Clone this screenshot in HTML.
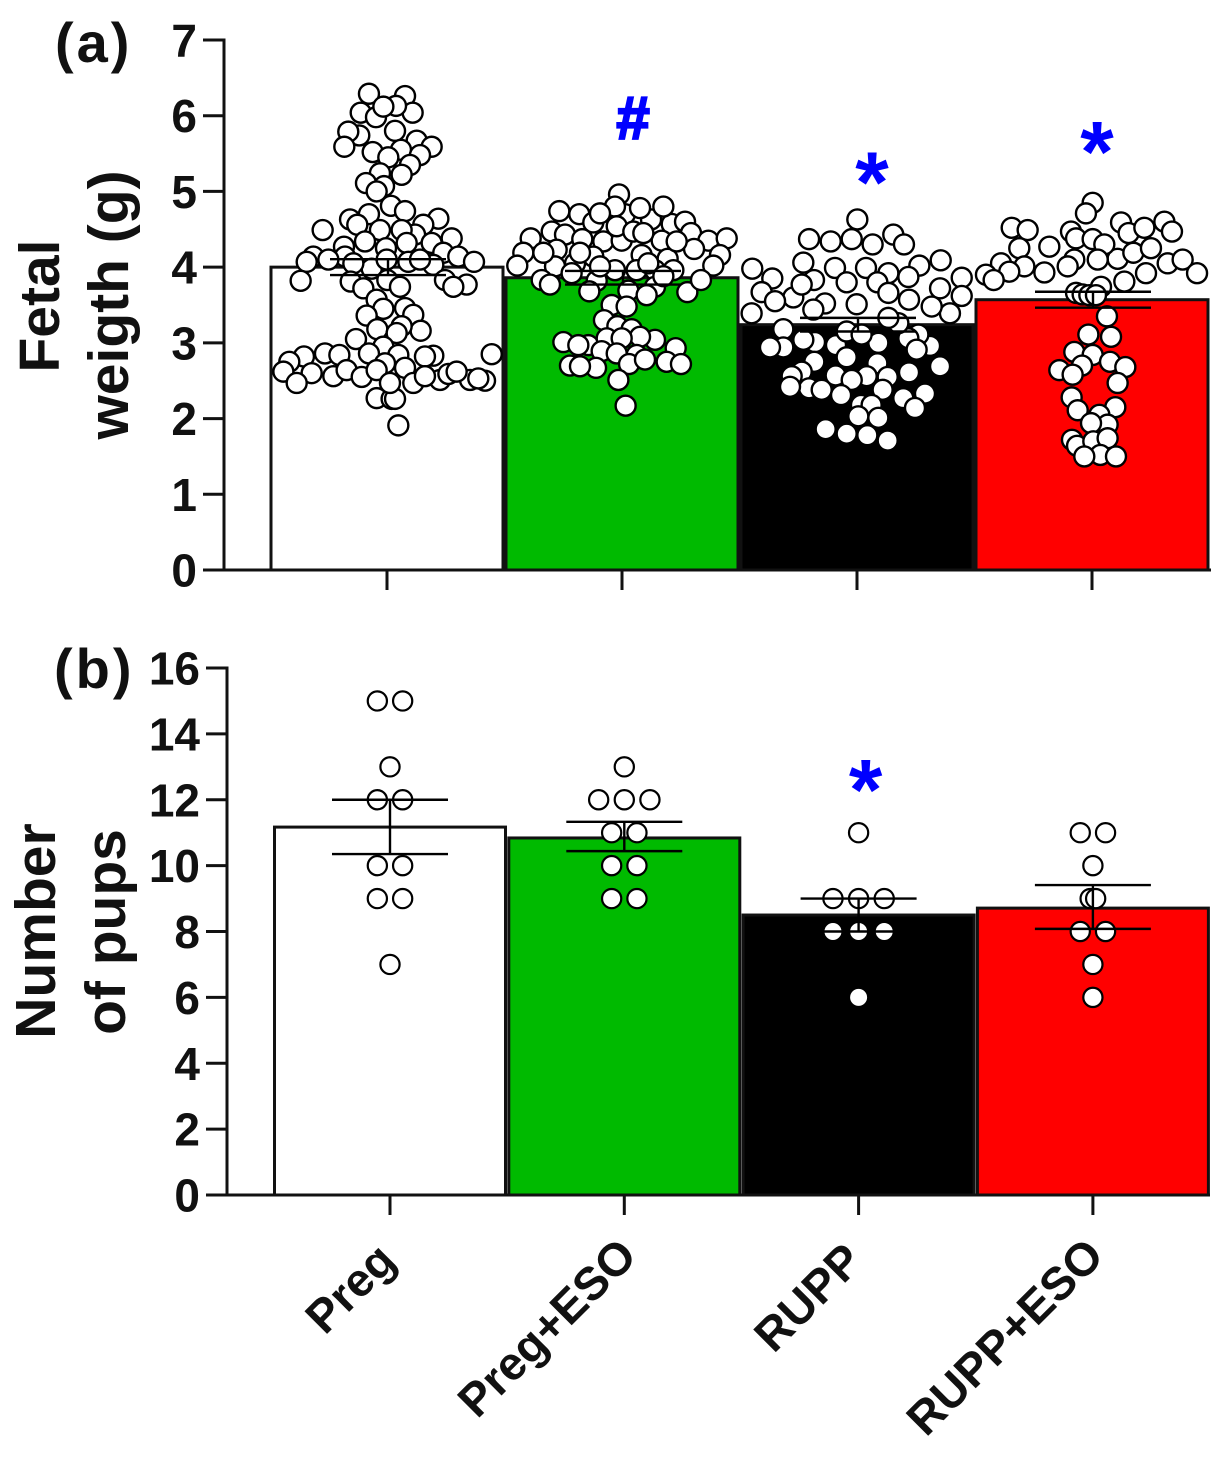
<!DOCTYPE html>
<html lang="en">
<head>
<meta charset="utf-8">
<title>Fetal weight and number of pups</title>
<style>
html,body{margin:0;padding:0;background:#fff;width:1230px;height:1457px;overflow:hidden}
svg{display:block}
text{font-family:"Liberation Sans",sans-serif;font-weight:bold;fill:#111}
</style>
</head>
<body>
<svg id="chart" xmlns="http://www.w3.org/2000/svg" width="1230" height="1457" viewBox="0 0 1230 1457"></svg>
<script>
const groupNames = ['Preg', 'Preg+ESO', 'RUPP', 'RUPP+ESO'];
const groupColors = ['#ffffff', '#00ba00', '#000000', '#ff0000'];

const weightTicks = [0, 1, 2, 3, 4, 5, 6, 7];
const weightMeans = [4.0, 3.86, 3.24, 3.57];
const weightErrors = [0.105, 0.09, 0.09, 0.105];
const weightMarks = ['', '#', '*', '*'];
const weightMarkValues = [0, 5.9, 5.25, 5.65];

const pupsTicks = [0, 2, 4, 6, 8, 10, 12, 14, 16];
const pupsMeans = [11.17, 10.84, 8.5, 8.71];
const pupsUpper = [12.0, 11.33, 9.0, 9.41];
const pupsLower = [10.35, 10.44, 8.0, 8.08];
const pupsMarks = ['', '', '*', ''];
const pupsMarkValues = [0, 0, 12.6, 0];

const pregWeights = [6.29,6.26,6.04,6.04,5.98,6.13,6.12,5.80,5.74,5.79,5.59,5.67,5.59,5.52,5.55,5.45,5.48,5.35,5.24,5.22,5.11,5.07,5.0,4.81,4.74,4.70,4.63,4.56,4.64,4.56,4.49,4.49,4.38,4.43,4.49,4.34,4.27,4.25,4.32,4.32,4.19,4.14,4.14,4.07,4.10,4.14,4.07,4.07,4.03,3.98,4.05,4.10,4.10,3.82,3.81,3.83,3.83,3.77,3.74,3.74,3.72,3.57,3.45,3.36,3.46,3.37,3.18,3.16,3.22,3.05,3.13,2.95,2.86,2.84,2.83,2.82,2.85,2.86,2.82,2.84,2.75,2.62,2.60,2.47,2.56,2.64,2.55,2.73,2.67,2.47,2.64,2.51,2.59,2.51,2.50,2.62,2.53,2.27,2.26,2.26,1.91,2.56,2.47];
const pregSwarm = [-1.64,1.64,-2.39,2.33,-1.0,.82,-.33,.73,-2.52,-3.52,-3.88,2.70,4.06,-1.30,1.27,.12,3.0,2.09,-.64,1.33,-1.91,-.27,-.94,.36,1.64,-1.64,-3.36,-2.70,4.67,3.30,-5.85,-.64,5.88,2.55,1.33,-2.0,-3.91,-.09,4.06,1.79,5.12,-3.82,-6.70,-7.30,-5.33,6.48,7.91,1.94,4.21,-1.39,-3.06,3.0,-.03,-7.85,-3.30,.03,5.27,7.24,6.03,1.18,-2.15,-.94,-.33,-1.85,1.64,2.39,-.88,3.06,1.33,-2.82,.88,-.33,-1.64,1.03,4.21,3.45,9.52,-5.64,-7.55,-4.33,-8.88,-9.42,-6.85,-8.21,-4.88,-3.67,-2.30,-.18,1.64,2.39,-.94,4.82,5.58,7.55,8.91,6.33,8.30,-.94,.42,.73,1.03,3.45,.27];

const pregEsoWeights = [4.96,4.74,4.70,4.59,4.70,4.63,4.57,4.80,4.80,4.78,4.71,4.60,4.38,4.47,4.43,4.37,4.34,4.35,4.35,4.45,4.35,4.38,4.23,4.16,4.11,4.24,4.16,4.19,4.02,4.02,4.01,4.19,4.05,4.14,4.54,4.47,4.45,4.34,3.82,3.92,3.96,3.96,3.96,3.96,3.83,3.77,3.69,3.74,3.67,3.83,3.68,3.50,3.48,3.63,3.30,3.22,3.18,3.01,2.97,3.04,3.06,3.08,3.06,2.97,2.93,2.89,2.86,2.84,2.70,2.67,2.72,2.69,2.75,2.72,2.51,2.17,2.78,4.05,4.01,4.19,3.88];
const pregEsoSwarm = [-.27,-5.70,-3.88,-2.61,.27,2.64,4.52,3.76,-.64,1.64,-2.0,5.73,-8.30,-6.39,-5.18,-3.61,-1.70,-.03,3.61,6.27,7.85,9.52,-5.94,1.79,4.15,6.55,8.91,-8.97,-9.52,8.30,-6.09,-7.15,-4.27,-2.61,-.48,1.03,1.94,4.97,-2.30,-4.58,-.64,1.33,3.0,4.67,-7.30,-6.55,.58,3.0,5.94,7.18,-2.97,-.94,.42,2.24,-1.64,-.42,.88,-5.33,-3.06,3.0,-1.39,1.64,-.03,-3.97,4.88,-1.85,-.48,1.33,-4.73,-2.36,.64,-3.82,4.06,5.36,-.33,.33,2.09,2.39,-2.0,-3.82,3.76];

const ruppWeights = [4.63,4.37,4.34,4.37,4.30,4.43,4.30,4.06,3.99,3.99,3.92,4.02,4.09,3.98,3.85,3.86,3.83,3.80,3.80,3.87,3.72,3.67,3.60,3.62,3.52,3.51,3.57,3.66,3.39,3.39,3.44,3.48,3.55,3.77,3.18,2.94,2.94,3.01,3.04,2.97,3.0,2.96,3.11,3.06,2.91,3.15,3.11,3.26,3.33,2.81,2.75,2.69,2.73,2.61,2.55,2.56,2.57,2.62,2.56,2.51,2.40,2.42,2.38,2.31,2.38,2.33,2.27,2.14,2.18,2.18,2.01,2.03,1.86,1.80,1.78,1.71];
const ruppSwarm = [.03,-4.36,-2.39,-.48,1.42,3.30,4.27,-4.88,-2.0,.82,2.85,5.67,7.61,-9.52,-7.70,9.52,-3.91,-.94,1.85,4.67,7.55,-8.67,-5.79,9.52,-2.91,-.03,4.73,2.85,-9.58,8.45,-3.97,6.79,-7.45,-5.03,-6.70,-6.70,-7.91,-3.82,-4.88,-1.91,1.94,6.64,5.58,4.67,5.42,-.94,.42,3.76,2.85,-.94,-3.88,7.55,1.85,4.73,2.79,.88,-1.94,-5.03,-5.94,-.48,-4.36,-6.09,-3.21,-1.45,2.33,6.18,4.21,5.27,.36,1.33,1.94,.12,-2.85,-.94,.94,2.79];

const ruppEsoWeights = [4.85,4.71,4.52,4.49,4.25,4.27,4.47,4.38,4.37,4.59,4.45,4.52,4.60,4.47,4.10,4.11,4.19,4.05,4.01,4.05,4.10,3.90,3.94,3.83,3.93,3.92,3.81,3.92,4.30,4.25,4.10,4.01,3.74,3.66,3.64,3.63,3.63,3.35,3.11,3.08,2.88,2.84,2.75,2.68,2.70,2.64,2.58,2.47,2.28,2.15,2.11,2.05,1.92,1.94,1.72,1.64,1.70,1.74,1.52,1.50,1.50];
const ruppEsoSwarm = [.06,-.55,-7.30,-5.85,-6.61,-3.88,-1.91,-1.45,.06,2.64,3.33,4.76,6.58,7.27,-1.61,2.33,3.76,-8.27,-6.15,6.88,8.24,-9.64,-7.52,-8.94,-4.33,4.91,2.94,9.55,1.12,5.36,.52,-2.21,.82,-1.45,-.85,-.24,.36,1.36,-.33,1.73,-1.61,.06,1.64,3.03,-.91,-2.97,-1.76,2.33,-1.85,2.12,-1.30,.67,1.42,-.09,-1.82,-1.36,.12,1.42,.76,2.18,-.70];

const pregPups = [15,15,13,12,12,10,10,9,9,7];
const pregPupsSwarm = [-1.15,1.15,0,-1.15,1.15,-1.15,1.15,-1.15,1.15,0];
const pregEsoPups = [13,12,12,12,11,11,10,10,9,9];
const pregEsoPupsSwarm = [0,-2.33,0,2.33,-1.15,1.15,-1.15,1.15,-1.15,1.15];
const ruppPups = [11,9,9,9,8,8,8,6];
const ruppPupsSwarm = [0,-2.33,0,2.33,-2.33,0,2.33,0];
const ruppEsoPups = [11,11,10,9,9,8,8,7,6];
const ruppEsoPupsSwarm = [-1.15,1.15,0,-.25,.25,-1.15,1.15,0,0];

const weightSeries = [pregWeights, pregEsoWeights, ruppWeights, ruppEsoWeights];
const weightSwarms = [pregSwarm, pregEsoSwarm, ruppSwarm, ruppEsoSwarm];
const pupsSeries = [pregPups, pregEsoPups, ruppPups, ruppEsoPups];
const pupsSwarms = [pregPupsSwarm, pregEsoPupsSwarm, ruppPupsSwarm, ruppEsoPupsSwarm];

const svg = document.getElementById('chart');
const NS = 'http://www.w3.org/2000/svg';
function make(tag, attrs, text) {
  const el = document.createElementNS(NS, tag);
  for (const k in attrs) el.setAttribute(k, attrs[k]);
  if (text !== undefined) el.textContent = text;
  svg.appendChild(el);
  return el;
}
function slug(s) { return s.toLowerCase().replace(/\+/g, '-'); }

function drawPanel(cfg) {
  const y = v => cfg.y0 + (cfg.yTop - cfg.y0) * (v - cfg.ticks[0]) / (cfg.ticks[cfg.ticks.length - 1] - cfg.ticks[0]);
  const x = i => cfg.x0 + cfg.step * i;

  groupNames.forEach((name, i) => {
    const bar = make('rect', {x: x(i) - cfg.barW / 2, y: y(cfg.means[i]), width: cfg.barW, height: y(0) - y(cfg.means[i]), fill: groupColors[i], stroke: '#111', 'stroke-width': 3});
    
    
  });

  groupNames.forEach((name, i) => {
    cfg.series[i].forEach((v, j) => {
      const dot = make('circle', {cx: x(i) + cfg.swarms[i][j] * 11, cy: y(v), r: cfg.r, fill: '#fff', stroke: '#000', 'stroke-width': cfg.dotStroke});
      
      
    });
  });

  groupNames.forEach((name, i) => {
    const hi = y(cfg.upper[i]), lo = y(cfg.lower[i]), cx = x(i) + cfg.errShift;
    const stem = make('line', {x1: cx, x2: cx, y1: hi, y2: lo, stroke: '#000', 'stroke-width': 2.4});
    
    
    const capTop = make('line', {x1: cx - 58, x2: cx + 58, y1: hi, y2: hi, stroke: '#000', 'stroke-width': 2.4});
    
    
    const capLow = make('line', {x1: cx - 58, x2: cx + 58, y1: lo, y2: lo, stroke: '#000', 'stroke-width': 2.4});
    
    
  });

  const yAxis = make('line', {x1: cfg.axisX, x2: cfg.axisX, y1: cfg.yTop - 1.5, y2: cfg.y0 + 1.5, stroke: '#111', 'stroke-width': 3});
  
  
  const xAxis = make('line', {x1: cfg.axisX - 20, x2: cfg.xEnd, y1: cfg.y0, y2: cfg.y0, stroke: '#111', 'stroke-width': 3});
  
  

  cfg.ticks.forEach(t => {
    const tick = make('line', {x1: cfg.axisX - 21, x2: cfg.axisX, y1: y(t), y2: y(t), stroke: '#111', 'stroke-width': 3});
    
    
    const lab = make('text', {x: cfg.axisX - 27, y: y(t) + 16.5, 'font-size': 46, 'text-anchor': 'end'}, String(t));
    
    
  });

  groupNames.forEach((name, i) => {
    const tick = make('line', {x1: x(i), x2: x(i), y1: cfg.y0, y2: cfg.y0 + 20, stroke: '#111', 'stroke-width': 3});
    
    
  });

  groupNames.forEach((name, i) => {
    if (!cfg.marks[i]) return;
    const isHash = cfg.marks[i] === '#';
    const size = isHash ? 60 : 86;
    const mark = make('text', {x: x(i) + cfg.markShift[i], y: y(cfg.markValues[i]) + (isHash ? 15 : 39.5), 'font-size': size, 'text-anchor': 'middle', style: isHash ? 'fill:#0000ff;stroke:#0000ff;stroke-width:2.2' : 'fill:#0000ff'}, cfg.marks[i]);
    
    
  });
}

drawPanel({
  key: 'weight', y0: 570, yTop: 40, x0: 387, step: 235, barW: 232, axisX: 224, xEnd: 1211,
  ticks: weightTicks, means: weightMeans, series: weightSeries, swarms: weightSwarms,
  upper: weightMeans.map((m, i) => m + weightErrors[i]),
  lower: weightMeans.map((m, i) => m - weightErrors[i]),
  r: 10, dotStroke: 2.4, errShift: 1, marks: weightMarks, markValues: weightMarkValues, markShift: [0, 11, 15, 5]
});
drawPanel({
  key: 'pups', y0: 1195, yTop: 668, x0: 390, step: 234.3, barW: 231, axisX: 227, xEnd: 1210,
  ticks: pupsTicks, means: pupsMeans, series: pupsSeries, swarms: pupsSwarms,
  upper: pupsUpper, lower: pupsLower,
  r: 9.6, dotStroke: 2.2, errShift: 0, marks: pupsMarks, markValues: pupsMarkValues, markShift: [0, 0, 7, 0]
});

const titles = [
  ['Fetal', 59, 306, 'y-axis-title-weight-line-1'],
  ['weigth (g)', 128, 305, 'y-axis-title-weight-line-2'],
  ['Number', 55, 931, 'y-axis-title-pups-line-1'],
  ['of pups', 125, 932, 'y-axis-title-pups-line-2']
];
titles.forEach(t => {
  const el = make('text', {x: t[1], y: t[2], 'font-size': 57, 'text-anchor': 'middle', transform: 'rotate(-90 ' + t[1] + ' ' + t[2] + ')'}, t[0]);
  
  
});

const labelEnds = [[398, 1263], [639, 1258], [865, 1263], [1106, 1258]];
groupNames.forEach((name, i) => {
  const p = labelEnds[i];
  const el = make('text', {x: p[0], y: p[1], 'font-size': 46.5, 'text-anchor': 'end', transform: 'rotate(-45 ' + p[0] + ' ' + p[1] + ')'}, name);
  
  
});

const panelA = make('text', {x: 55, y: 62, 'font-size': 56, 'letter-spacing': 3}, '(a)');


const panelB = make('text', {x: 54, y: 688, 'font-size': 56, 'letter-spacing': 3}, '(b)');


</script>
</body>
</html>
